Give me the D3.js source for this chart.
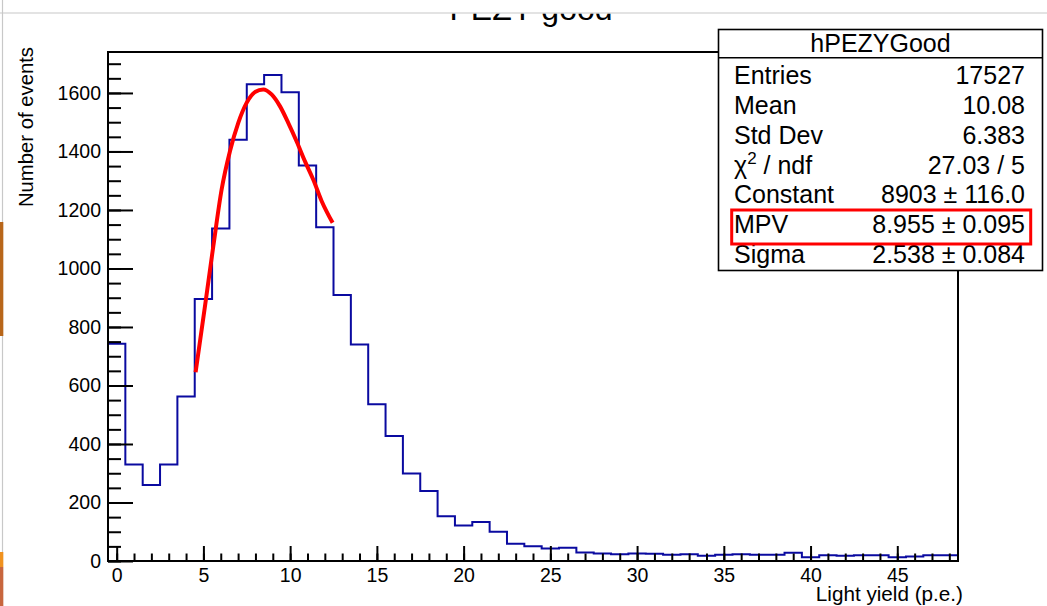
<!DOCTYPE html>
<html>
<head>
<meta charset="utf-8">
<script src="https://cdn.jsdelivr.net/npm/d3@7/dist/d3.min.js"></script>
<style>
  html, body { margin: 0; padding: 0; background: #fff; }
  svg { display: block; font-family: "Liberation Sans", Arial, Helvetica, sans-serif; }
</style>
</head>
<body>
<svg id="chart" width="1047" height="606"></svg>
<script>
// ---- data ----
const binCenters = [0,1,2,3,4,5,6,7,8,9,10,11,12,13,14,15,16,17,18,19,20,21,22,23,24,25,26,27,28,29,30,31,32,33,34,35,36,37,38,39,40,41,42,43,44,45,46,47,48];
const binCounts  = [743,330,260,330,562,896,1137,1440,1630,1661,1602,1352,1141,909,740,536,427,299,239,153,121,133,100,59,50,43,45,29,26,23,26,25,21,23,18,21,23,21,21,28,13,20,18,20,20,13,15,20,20];
const fitX = [4.55,5.09,5.57,6.05,6.53,7.01,7.49,7.97,8.45,8.93,9.41,9.89,10.37,10.85,11.33,11.82,12.45];
const fitY = [645,871,1076,1270,1401,1498,1566,1603,1612,1595,1555,1498,1435,1367,1304,1230,1156];
const xMajorTicks = [0,5,10,15,20,25,30,35,40,45];
const xMinorTicks = [0,1,2,3,4,5,6,7,8,9,10,11,12,13,14,15,16,17,18,19,20,21,22,23,24,25,26,27,28,29,30,31,32,33,34,35,36,37,38,39,40,41,42,43,44,45,46,47,48];
const yMajorTicks = [0,200,400,600,800,1000,1200,1400,1600];
const yMinorTicks = [0,50,100,150,200,250,300,350,400,450,500,550,600,650,700,750,800,850,900,950,1000,1050,1100,1150,1200,1250,1300,1350,1400,1450,1500,1550,1600,1650,1700];
const titleText = "PEZY good";
const statsName = "hPEZYGood";
const statLabels = ["Entries","Mean","Std Dev","χ2 / ndf","Constant","MPV","Sigma"];
const statValues = ["17527","10.08","6.383","27.03 / 5","8903 ± 116.0","8.955 ± 0.095","2.538 ± 0.084"];
const xTitle = "Light yield (p.e.)";
const yTitle = "Number of events";

// ---- layout ----
const svg = d3.select("#chart");
const L = 108, R = 958, T = 52, B = 561;
const x = d3.scaleLinear().domain([-0.5, 48.5]).range([L, R]);
const y = d3.scaleLinear().domain([0, 1740]).range([B, T]);

// screenshot artifacts at page edges
svg.append("line").attr("x1", 2.5).attr("x2", 2.5).attr("y1", 0).attr("y2", 606)
  .attr("stroke", "#c8c8c8").attr("stroke-width", 1.2);
svg.append("rect").attr("x", 0).attr("y", 222).attr("width", 3.3).attr("height", 114).attr("fill", "#b8661a");
svg.append("rect").attr("x", 0).attr("y", 552).attr("width", 3.3).attr("height", 15).attr("fill", "#f0921f");
svg.append("rect").attr("x", 0).attr("y", 567).attr("width", 3.3).attr("height", 39).attr("fill", "#c8663e");

// title, clipped at the top
svg.append("defs").append("clipPath").attr("id", "tclip")
  .append("rect").attr("x", 0).attr("y", 13.5).attr("width", 1047).attr("height", 40);
svg.append("text").attr("clip-path", "url(#tclip)")
  .attr("x", (L + R) / 2 - 2).attr("y", 20).attr("text-anchor", "middle")
  .attr("font-size", 32).attr("fill", "#000").text(titleText);
svg.append("line").attr("x1", 0).attr("x2", 1047).attr("y1", 13).attr("y2", 13)
  .attr("stroke", "#c8c8c8").attr("stroke-width", 1.2);

// histogram step outline
const stepPts = [];
binCenters.forEach((c, i) => {
  stepPts.push([c - 0.5, binCounts[i]]);
  stepPts.push([c + 0.5, binCounts[i]]);
});
svg.append("path")
  .attr("d", d3.line().x(d => x(d[0])).y(d => y(d[1]))(stepPts))
  .attr("fill", "none").attr("stroke", "#0a0aa0").attr("stroke-width", 2);

// fit curve
svg.append("path")
  .attr("d", d3.line().x((d, i) => x(fitX[i])).y(d => y(d)).curve(d3.curveMonotoneX)(fitY))
  .attr("fill", "none").attr("stroke", "#ff0000").attr("stroke-width", 4).attr("stroke-linecap", "butt");

// frame
svg.append("rect").attr("x", L).attr("y", T).attr("width", R - L).attr("height", B - T)
  .attr("fill", "none").attr("stroke", "#000").attr("stroke-width", 2);

// axes
const fontSize = 19.5;
const gyMinor = svg.append("g").attr("transform", `translate(${L},0)`)
  .call(d3.axisLeft(y).tickValues(yMinorTicks).tickSize(-13).tickSizeOuter(0).tickFormat(""));
const gy = svg.append("g").attr("transform", `translate(${L},0)`)
  .call(d3.axisLeft(y).tickValues(yMajorTicks).tickSize(-25).tickSizeOuter(0).tickPadding(7).tickFormat(d3.format("d")));
const gxMinor = svg.append("g").attr("transform", `translate(0,${B})`)
  .call(d3.axisBottom(x).tickValues(xMinorTicks).tickSize(-7.5).tickSizeOuter(0).tickFormat(""));
const gx = svg.append("g").attr("transform", `translate(0,${B})`)
  .call(d3.axisBottom(x).tickValues(xMajorTicks).tickSize(-15).tickSizeOuter(0).tickPadding(7.5).tickFormat(d3.format("d")));
[gyMinor, gy, gxMinor, gx].forEach(g => {
  g.select(".domain").remove();
  g.selectAll(".tick line").attr("stroke", "#000").attr("stroke-width", 2);
  g.selectAll("text").attr("font-size", fontSize).attr("fill", "#000")
    .attr("font-family", "'Liberation Sans', Arial, Helvetica, sans-serif");
});

// axis titles
svg.append("text").attr("x", 963).attr("y", 601).attr("text-anchor", "end")
  .attr("font-size", 20.7).attr("fill", "#000").text(xTitle);
svg.append("text").attr("transform", "translate(33,47) rotate(-90)").attr("text-anchor", "end")
  .attr("font-size", 20.3).attr("fill", "#000").text(yTitle);

// stats box
const bx0 = 718.5, bx1 = 1042.5, by0 = 29.5, by1 = 270.5;
svg.append("rect").attr("x", bx0).attr("y", by0).attr("width", bx1 - bx0).attr("height", by1 - by0)
  .attr("fill", "#fff").attr("stroke", "#000").attr("stroke-width", 1.6);
svg.append("line").attr("x1", bx0).attr("x2", bx1).attr("y1", 57.7).attr("y2", 57.7)
  .attr("stroke", "#000").attr("stroke-width", 1.6);
svg.append("text").attr("x", (bx0 + bx1) / 2).attr("y", 52.3).attr("text-anchor", "middle")
  .attr("font-size", 25).attr("fill", "#000").text(statsName);
const rowY = d3.scaleLinear().domain([0, statLabels.length - 1]).range([84, 263]);
statLabels.forEach((lab, i) => {
  const t = svg.append("text").attr("x", 734).attr("y", rowY(i)).attr("font-size", 25).attr("fill", "#000");
  if (lab.startsWith("χ2")) {
    t.append("tspan").text("χ");
    t.append("tspan").attr("dy", -10).attr("font-size", 17).text("2");
    t.append("tspan").attr("dy", 10).text(lab.slice(2));
  } else {
    t.text(lab);
  }
  svg.append("text").attr("x", 1025).attr("y", rowY(i)).attr("text-anchor", "end")
    .attr("font-size", 25).attr("fill", "#000").text(statValues[i]);
});
// red highlight around MPV row
svg.append("rect").attr("x", 731.7).attr("y", 210).attr("width", 299).attr("height", 34)
  .attr("fill", "none").attr("stroke", "#ff0000").attr("stroke-width", 3);
</script>
</body>
</html>
